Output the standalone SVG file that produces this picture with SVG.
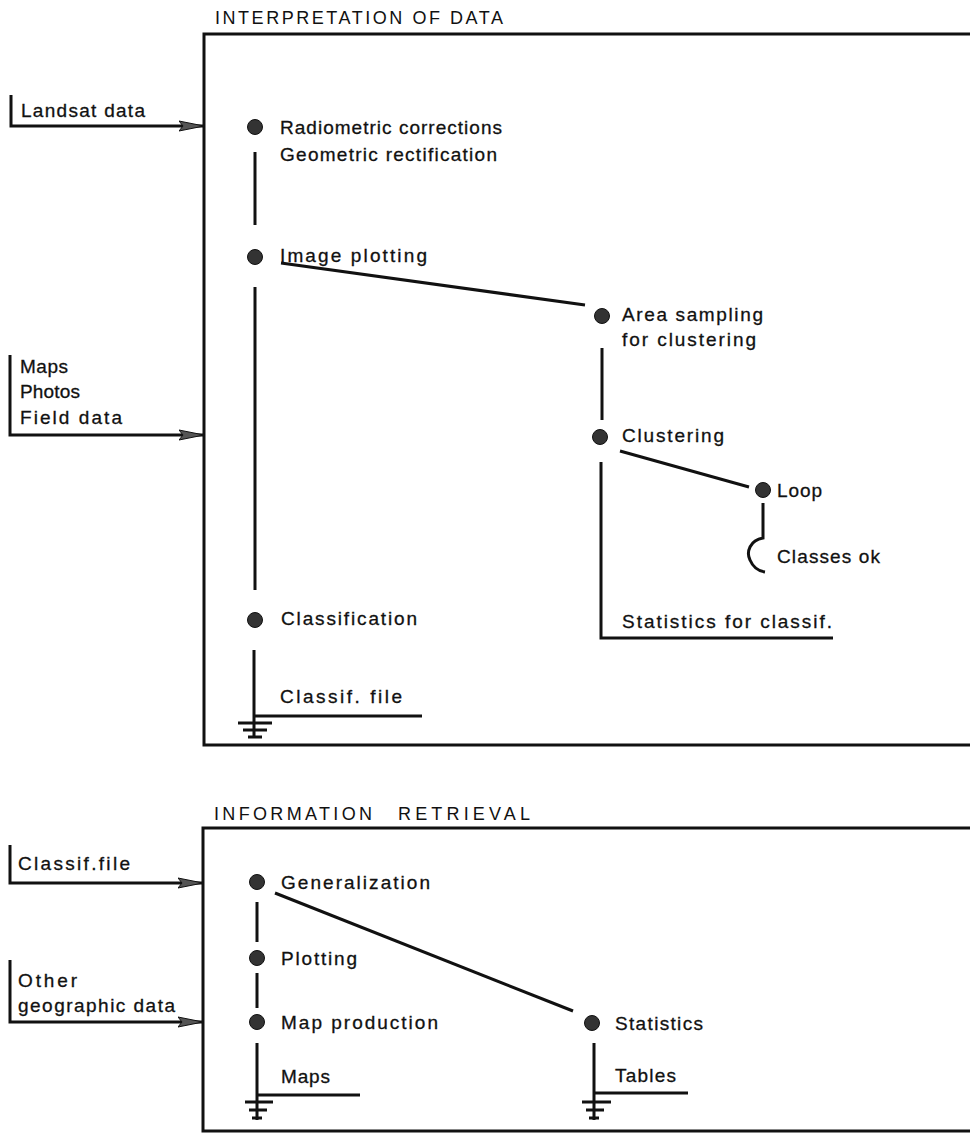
<svg xmlns="http://www.w3.org/2000/svg" width="970" height="1133" viewBox="0 0 970 1133">
<style>
text{font-family:"Liberation Sans","DejaVu Sans",sans-serif;font-size:19px;fill:#111;stroke:#111;stroke-width:0.3px}
.t{font-size:18px;stroke-width:0}
.ln{stroke:#111;stroke-width:3;fill:none}
.bx{stroke:#111;stroke-width:3;fill:none}
.dot{fill:#333;stroke:#111;stroke-width:1}
</style>
<defs>
<marker id="ah" markerWidth="26" markerHeight="12" refX="25" refY="6" orient="auto" markerUnits="userSpaceOnUse">
<path d="M0,1 L25,6 L0,11 L4,6 Z" fill="#555" stroke="#111" stroke-width="1"/>
</marker>
</defs>
<rect width="970" height="1133" fill="#fff"/>
<g id="box-interpretation">
<path class="bx" d="M970,34 L204,34 L204,745 L970,745"/>
<text class="t" x="215" y="24" textLength="288" lengthAdjust="spacing">INTERPRETATION OF DATA</text>
</g>
<g id="box-retrieval">
<path class="bx" d="M970,828 L203,828 L203,1131 L970,1131"/>
<text class="t" x="214" y="820"><tspan textLength="158" lengthAdjust="spacing">INFORMATION</tspan> <tspan x="398" textLength="132" lengthAdjust="spacing">RETRIEVAL</tspan></text>
</g>
<g id="in-landsat">
<text x="21" y="117" textLength="124" lengthAdjust="spacing">Landsat data</text>
</g>
<g id="in-maps">
<text x="20" y="373" textLength="48" lengthAdjust="spacing">Maps</text>
<text x="20" y="398" textLength="60" lengthAdjust="spacing">Photos</text>
<text x="20" y="424" textLength="102" lengthAdjust="spacing">Field data</text>
</g>
<g id="in-classif">
<text x="18" y="870" textLength="112" lengthAdjust="spacing">Classif.file</text>
</g>
<g id="in-other">
<text x="18" y="987" textLength="59" lengthAdjust="spacing">Other</text>
<text x="18" y="1012" textLength="157" lengthAdjust="spacing">geographic data</text>
</g>
<g id="n-radiometric">
<circle class="dot" cx="255" cy="127" r="7.5"/>
<text x="280" y="134" textLength="222" lengthAdjust="spacing">Radiometric corrections</text>
<text x="280" y="161" textLength="217" lengthAdjust="spacing">Geometric rectification</text>
</g>
<g id="n-image">
<circle class="dot" cx="255" cy="257" r="7.5"/>
<text x="280" y="262" textLength="147" lengthAdjust="spacing">Image plotting</text>
</g>
<g id="n-area">
<circle class="dot" cx="602" cy="316" r="7.5"/>
<text x="622" y="321" textLength="141" lengthAdjust="spacing">Area sampling</text>
<text x="622" y="346" textLength="134" lengthAdjust="spacing">for clustering</text>
</g>
<g id="n-clustering">
<circle class="dot" cx="600" cy="437" r="7.5"/>
<text x="622" y="442" textLength="102" lengthAdjust="spacing">Clustering</text>
</g>
<g id="n-loop">
<circle class="dot" cx="763" cy="490" r="7.5"/>
<text x="777" y="497" textLength="45" lengthAdjust="spacing">Loop</text>
</g>
<g id="n-classes">
<text x="777" y="563" textLength="103" lengthAdjust="spacing">Classes ok</text>
</g>
<g id="n-stats-classif">
<text x="622" y="628" textLength="210" lengthAdjust="spacing">Statistics for classif.</text>
</g>
<g id="n-classification">
<circle class="dot" cx="255" cy="620" r="7.5"/>
<text x="281" y="625" textLength="136" lengthAdjust="spacing">Classification</text>
</g>
<g id="n-classif-file">
<text x="280" y="703" textLength="122" lengthAdjust="spacing">Classif. file</text>
</g>
<g id="n-generalization">
<circle class="dot" cx="257" cy="882" r="7.5"/>
<text x="281" y="889" textLength="149" lengthAdjust="spacing">Generalization</text>
</g>
<g id="n-plotting">
<circle class="dot" cx="257" cy="958" r="7.5"/>
<text x="281" y="965" textLength="76" lengthAdjust="spacing">Plotting</text>
</g>
<g id="n-mapprod">
<circle class="dot" cx="257" cy="1022" r="7.5"/>
<text x="281" y="1029" textLength="157" lengthAdjust="spacing">Map production</text>
</g>
<g id="n-maps">
<text x="281" y="1083" textLength="49" lengthAdjust="spacing">Maps</text>
</g>
<g id="n-statistics">
<circle class="dot" cx="592" cy="1023" r="7.5"/>
<text x="615" y="1030" textLength="88" lengthAdjust="spacing">Statistics</text>
</g>
<g id="n-tables">
<text x="615" y="1082" textLength="61" lengthAdjust="spacing">Tables</text>
</g>
<g id="connectors">
<path class="ln" d="M11,95 L11,126 L204,126" marker-end="url(#ah)"/>
<path class="ln" d="M10,355 L10,435 L204,435" marker-end="url(#ah)"/>
<path class="ln" d="M10,845 L10,883 L203,883" marker-end="url(#ah)"/>
<path class="ln" d="M10,960 L10,1022 L203,1022" marker-end="url(#ah)"/>
<path class="ln" d="M255,152 L255,225"/>
<path class="ln" d="M255,287 L255,590"/>
<path class="ln" d="M281,263 L585,305"/>
<path class="ln" d="M602,348 L602,420"/>
<path class="ln" d="M620,451 L749,487"/>
<path class="ln" d="M763,503 L763,538 C750,540 746,552 750,560 C753,567 758,571 765,572"/>
<path class="ln" d="M601,462 L601,638 L833,638"/>
<path class="ln" d="M254,650 L254,738 M254,716 L422,716 M238,723 L272,723 M243,730 L267,730 M248,737 L262,737"/>
<path class="ln" d="M275,893 L573,1011"/>
<path class="ln" d="M257,902 L257,942"/>
<path class="ln" d="M257,973 L257,1008"/>
<path class="ln" d="M257,1043 L257,1120 M257,1095 L360,1095 M245,1102 L273,1102 M249,1110 L267,1110 M252,1118 L262,1118"/>
<path class="ln" d="M594,1043 L594,1120 M594,1093 L688,1093 M582,1102 L611,1102 M586,1110 L604,1110 M589,1118 L599,1118"/>
</g>
</svg>
